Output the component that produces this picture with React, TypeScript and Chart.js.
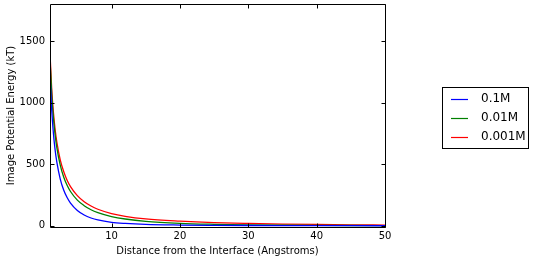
import React, { useEffect, useRef } from "react";
import { Chart, registerables } from "chart.js";

Chart.register(...registerables);

const distances = [1, 1.25, 1.5, 1.75, 2, 2.5, 3, 3.5, 4, 5, 6, 7, 8, 10, 12, 15, 20, 25, 30, 35, 40, 45, 50];
const energy01M = [1223, 938, 749, 615, 516, 379, 290, 229, 184, 124, 87, 63, 47, 28, 19, 11, 6, 3.5, 2, 1.2, 0.8, 0.5, 0.3];
const energy001M = [1357, 1068, 876, 738, 635, 492, 396, 329, 278, 208, 163, 130, 107, 75, 55, 36, 20, 12, 7, 4.5, 3, 2, 1.2];
const energy0001M = [1400, 1110, 920, 780, 680, 535, 440, 370, 318, 245, 195, 160, 134, 99, 77, 56, 38, 26, 19, 14, 10.5, 8, 6];

const seriesLabels = ["0.1M", "0.01M", "0.001M"];
const seriesColors = ["#0000ff", "#008000", "#ff0000"];
const xTicks = [10, 20, 30, 40, 50];
const yTicks = [0, 500, 1000, 1500];
const xTitle = "Distance from the Interface (Angstroms)";
const yTitle = "Image Potential Energy (kT)";

const FONT = "'DejaVu Sans', sans-serif";

const framePlugin = {
  id: "frameTicks",
  afterDatasetsDraw(chart: any) {
    const { ctx, chartArea } = chart;
    const { left, right, top, bottom } = chartArea;
    const xs = chart.scales.x;
    const ys = chart.scales.y;
    ctx.save();
    ctx.strokeStyle = "#000";
    ctx.lineWidth = 1;
    ctx.beginPath();
    ctx.rect(left + 0.5, top + 0.5, right - left, bottom - top);
    ctx.stroke();
    const len = 4;
    ctx.beginPath();
    xTicks.forEach((v) => {
      const px = Math.round(xs.getPixelForValue(v)) + 0.5;
      ctx.moveTo(px, bottom + 0.5);
      ctx.lineTo(px, bottom + 0.5 - len);
      ctx.moveTo(px, top + 0.5);
      ctx.lineTo(px, top + 0.5 + len);
    });
    yTicks.forEach((v) => {
      const py = Math.round(ys.getPixelForValue(v)) + 0.5;
      ctx.moveTo(left + 0.5, py);
      ctx.lineTo(left + 0.5 + len, py);
      ctx.moveTo(right + 0.5, py);
      ctx.lineTo(right + 0.5 - len, py);
    });
    ctx.stroke();
    ctx.restore();
  },
  afterDraw(chart: any) {
    const { ctx } = chart;
    ctx.save();
    ctx.lineWidth = 1;
    ctx.strokeStyle = "#000";
    ctx.strokeRect(442.5, 87.5, 86, 61);
    ctx.font = `12px ${FONT}`;
    ctx.textBaseline = "middle";
    chart.data.datasets.forEach((ds: any, i: number) => {
      const y = 98.5 + i * 19.2;
      ctx.strokeStyle = seriesColors[i];
      ctx.lineWidth = 1.2;
      ctx.beginPath();
      ctx.moveTo(451, Math.round(y) + 0.5);
      ctx.lineTo(468, Math.round(y) + 0.5);
      ctx.stroke();
      ctx.fillStyle = "#000";
      ctx.fillText(ds.label, 481, y);
    });
    ctx.restore();
  },
};

export default function App() {
  const ref = useRef<HTMLCanvasElement>(null);
  useEffect(() => {
    if (!ref.current) return;
    const series = [energy01M, energy001M, energy0001M];
    const chart = new Chart(ref.current, {
      type: "line",
      data: {
        datasets: series.map((arr, i) => ({
          label: seriesLabels[i],
          data: distances.map((d, j) => ({ x: d, y: arr[j] })),
          borderColor: seriesColors[i],
          backgroundColor: seriesColors[i],
          borderWidth: 1.3,
          pointRadius: 0,
          cubicInterpolationMode: "monotone" as const,
          fill: false,
        })),
      },
      options: {
        animation: false,
        responsive: false,
        devicePixelRatio: 1,
        layout: { padding: { left: 0, top: 4, right: 150, bottom: 0 } },
        plugins: { legend: { display: false }, tooltip: { enabled: false } },
        scales: {
          x: {
            type: "linear",
            min: 1,
            max: 50,
            afterBuildTicks: (s: any) => {
              s.ticks = xTicks.map((v) => ({ value: v }));
            },
            afterFit: (s: any) => {
              s.height = 36;
              s.paddingLeft = 0;
              s.paddingRight = 0;
            },
            grid: { display: false, drawTicks: false },
            border: { display: false },
            ticks: { color: "#000", font: { family: FONT, size: 10 }, padding: 3, maxRotation: 0, callback: (v: any) => String(v) },
            title: { display: true, text: xTitle, color: "#000", font: { family: FONT, size: 10 }, padding: { top: 0, bottom: 6 } },
          },
          y: {
            type: "linear",
            min: -10,
            max: 1800,
            afterBuildTicks: (s: any) => {
              s.ticks = yTicks.map((v) => ({ value: v }));
            },
            afterFit: (s: any) => {
              s.width = 50;
              s.paddingTop = 0;
              s.paddingBottom = 0;
            },
            grid: { display: false, drawTicks: false },
            border: { display: false },
            ticks: { color: "#000", font: { family: FONT, size: 10 }, padding: 5, callback: (v: any) => String(v) },
            title: { display: true, text: yTitle, color: "#000", font: { family: FONT, size: 10 }, padding: { top: 5, bottom: 0 } },
          },
        },
      },
      plugins: [framePlugin],
    });
    return () => chart.destroy();
  }, []);
  return (
    <div style={{ position: "fixed", left: 0, top: 0, width: 535, height: 263, background: "#fff" }}>
      <canvas ref={ref} width={535} height={263} style={{ display: "block" }} />
    </div>
  );
}
